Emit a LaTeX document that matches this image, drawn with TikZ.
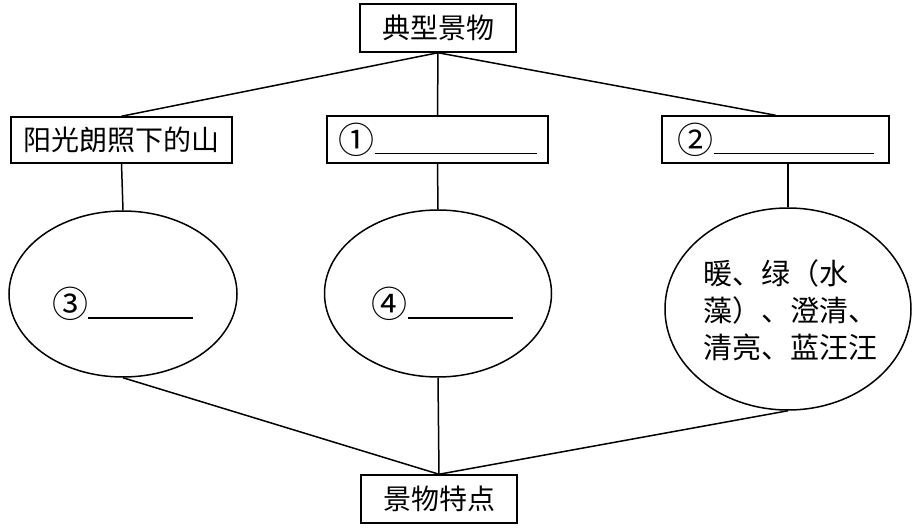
\documentclass[tikz,border=0pt]{standalone}
\usepackage{fontspec}
\newfontfamily\cjk{Noto Sans CJK SC}
\usetikzlibrary{shapes.geometric}
\tikzset{
  every node/.style={font=\cjk\fontsize{28}{36}\selectfont, inner sep=0pt},
  box/.style={draw, line width=1.5pt, rectangle},
  oval/.style={draw, line width=1.5pt, ellipse},
  conn/.style={line width=1.5pt},
}
\newcommand{\blankline}[1]{\rule[-1pt]{#1}{1.2pt}}
\newcommand{\circnum}[1]{{\fontsize{36}{36}\selectfont #1}}
\begin{document}
\begin{tikzpicture}[x=1pt,y=-1pt]
\useasboundingbox (0,0) rectangle (914,529);
\node[box, minimum width=156pt, minimum height=48pt] (top) at (438,28) {典型景物};
\node[box, minimum width=221pt, minimum height=46pt] (l) at (121.5,140) {阳光朗照下的山};
\node[box, minimum width=221pt, minimum height=47pt] (m) at (437.5,139.5) {\circnum{①}\blankline{162pt}};
\node[box, minimum width=227pt, minimum height=47pt] (r) at (775.5,139.5) {\circnum{②}\blankline{160pt}};
\node[oval, minimum width=228pt, minimum height=166pt] (e1) at (123,294) {};
\node[oval, minimum width=227pt, minimum height=167pt] (e2) at (438,293.5) {};
\node[oval, minimum width=246pt, minimum height=202pt] (e3) at (788,309) {};
\node (t1) at (122.5,304) {\circnum{③}\blankline{105pt}};
\node (t2) at (442,304) {\circnum{④}\blankline{105pt}};
\node[align=left, font=\cjk\fontsize{29}{37}\selectfont] (t3) at (790,310) {暖、绿（水\\藻）、澄清、\\清亮、蓝汪汪};
\node[box, minimum width=156pt, minimum height=48pt] (bot) at (439,499) {景物特点};
\draw[conn] (top.south) -- (l.north);
\draw[conn] (top.south) -- (m.north);
\draw[conn] (top.south) -- (r.north);
\draw[conn] (l.south) -- (e1.north);
\draw[conn] (m.south) -- (e2.north);
\draw[conn] (e3.north |- r.south) -- (e3.north);
\draw[conn] (e1.south) -- (bot.north);
\draw[conn] (e2.south) -- (bot.north);
\draw[conn] (e3.south) -- (bot.north);
\end{tikzpicture}
\end{document}
